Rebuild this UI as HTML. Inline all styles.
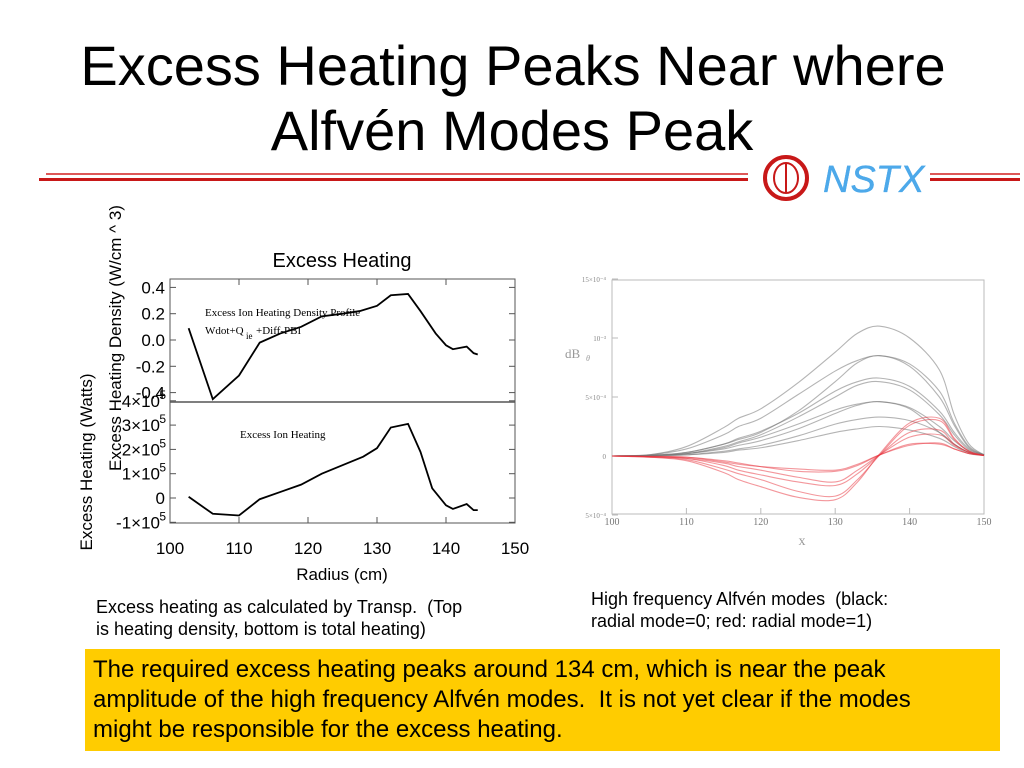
<!DOCTYPE html>
<html><head><meta charset="utf-8"><style>
body{margin:0;width:1024px;height:768px;background:#fff;position:relative;overflow:hidden;font-family:"Liberation Sans",sans-serif}
.t{position:absolute;left:0;width:1024px;text-align:center;font-size:56px;color:#000;line-height:1}
.cap{position:absolute;font-size:18px;line-height:22px;color:#000}
</style></head><body>
<div class="t" style="top:38px;left:1px">Excess Heating Peaks Near where</div>
<div class="t" style="top:103px;left:0px">Alfvén Modes Peak</div>
<svg width="1024" height="768" style="position:absolute;left:0;top:0">
<line x1="46" y1="174" x2="748" y2="174" stroke="#d42020" stroke-width="1.5"/>
<line x1="39" y1="179.5" x2="748" y2="179.5" stroke="#c81818" stroke-width="3"/>
<line x1="930" y1="174" x2="1020" y2="174" stroke="#d42020" stroke-width="1.5"/>
<line x1="930" y1="179.5" x2="1020" y2="179.5" stroke="#c81818" stroke-width="3"/>
<g>
<circle cx="786" cy="178" r="21" fill="none" stroke="#c81818" stroke-width="4"/>
<ellipse cx="786" cy="178" rx="12" ry="15" fill="none" stroke="#c81818" stroke-width="2"/>
<line x1="786" y1="163" x2="786" y2="193" stroke="#c81818" stroke-width="2"/>
<text x="823" y="192" font-family="Liberation Sans" font-style="italic" font-size="38" fill="#3aa0e8" stroke="#3aa0e8" stroke-width="0.3" fill-opacity="0.9">NSTX</text>
</g>
</svg>

<svg id="left" width="1024" height="768" style="position:absolute;left:0;top:0"></svg>
<svg id="right" width="1024" height="768" style="position:absolute;left:0;top:0"></svg>

<div class="cap" style="left:96px;top:596px;width:420px">Excess heating as calculated by Transp.&nbsp; (Top<br>is heating density, bottom is total heating)</div>
<div class="cap" style="left:591px;top:588px;width:345px">High frequency Alfvén modes&nbsp; (black: radial mode=0; red: radial mode=1)</div>
<div style="position:absolute;left:85px;top:649px;width:899px;height:96px;background:#ffcc00;padding:6px 8px 0 8px;font-size:24px;line-height:30px"><div style="width:880px">The required excess heating peaks around 134 cm, which is near the peak amplitude of the high frequency Alfvén modes.&nbsp; It is not yet clear if the modes might be responsible for the excess heating.</div></div>

<script>
// ---- left chart data ----
const densR = [102.7,106.2,110,113,116,119,122,125,127.5,130,132,134.5,136.3,138.5,140,141,143,144,144.6];
const densV = [0.09,-0.45,-0.27,-0.02,0.05,0.1,0.18,0.2,0.22,0.26,0.34,0.35,0.22,0.05,-0.04,-0.07,-0.05,-0.10,-0.11];
const heatR = [102.7,106.2,110,113,116,119,122,125,128,130,132,134.5,136.3,138,140,141,143,144,144.6];
const heatV = [0.05,-0.65,-0.72,-0.05,0.25,0.55,1.0,1.35,1.7,2.05,2.9,3.05,1.9,0.4,-0.3,-0.45,-0.25,-0.5,-0.5]; // x1e5
const xTicks = [100,110,120,130,140,150];
const densTicks = [0.4,0.2,0.0,-0.2,-0.4];
const densTickLabels = ["0.4","0.2","0.0","-0.2","-0.4"];
const heatTicks = [4,3,2,1,0,-1];

// ---- right chart data ----
const modeX = [100,105,110,115,117,120,125,130,133,136,140,144,146,148,150];
const black1 = [0,0.1,0.8,2.4,3.2,4.0,6.2,8.8,10.4,11.0,10.0,7.3,3.5,1.0,0.1];
const black2 = [0,0.1,0.6,1.8,2.5,3.2,5.2,7.2,8.1,8.5,7.8,5.5,2.8,0.8,0.1];
const black3 = [0,0.05,0.3,1.0,1.4,2.0,3.8,6.3,7.9,8.5,7.6,5.0,2.6,0.7,0.1];
const black4 = [0,0.05,0.3,1.0,1.5,2.1,3.6,5.5,6.3,6.6,5.9,3.8,2.0,0.6,0.1];
const black5 = [0,0.05,0.2,0.8,1.2,1.8,3.3,5.0,6.0,6.3,5.6,3.5,1.8,0.5,0.1];
const black6 = [0,0.05,0.2,0.7,1.1,1.6,2.7,3.9,4.4,4.6,4.1,2.5,1.3,0.4,0.05];
const black7 = [0,0.03,0.2,0.6,0.9,1.3,2.3,3.6,4.3,4.6,4.0,2.0,1.0,0.3,0.05];
const black8 = [0,0.03,0.1,0.4,0.6,0.9,1.7,2.7,3.1,3.3,3.0,2.0,1.0,0.3,0.05];
const black9 = [0,0.02,0.1,0.3,0.5,0.7,1.3,2.0,2.3,2.5,2.2,1.5,0.8,0.2,0.05];
const red1 = [0,-0.1,-0.4,-1.4,-2.0,-2.6,-3.5,-3.7,-2.2,0.2,2.8,3.2,1.5,0.4,0.05];
const red2 = [0,-0.1,-0.3,-1.1,-1.5,-2.0,-3.0,-3.4,-2.0,0.1,2.6,3.0,1.4,0.4,0.05];
const red3 = [0,-0.05,-0.2,-0.8,-1.2,-1.6,-2.2,-2.5,-1.5,0.1,2.0,2.2,1.0,0.3,0.05];
const red4 = [0,-0.05,-0.2,-0.6,-0.9,-1.2,-1.8,-2.2,-1.2,0.1,1.6,1.8,0.9,0.3,0.05];
const red5 = [0,-0.05,-0.1,-0.4,-0.6,-0.9,-1.3,-1.3,-0.8,0.1,1.0,1.0,0.6,0.2,0.05];
const red6 = [0,-0.03,-0.1,-0.5,-0.7,-0.9,-1.1,-1.2,-0.7,0.1,0.9,1.1,0.6,0.2,0.05];
const modeXTicks = [100,110,120,130,140,150];

const NS='http://www.w3.org/2000/svg';
function mk(svg,tag,attrs,text){const e=document.createElementNS(NS,tag);for(const k in attrs)e.setAttribute(k,attrs[k]);if(text!==undefined)e.textContent=text;svg.appendChild(e);return e;}

// Left chart
(function(){
const svg=document.getElementById('left');
const X0=170,X1=515;
const xs=v=>X0+(v-100)/50*(X1-X0);
const yd=v=>340-v*131.5;
const yh=v=>498-v*24.3;
let e;
e=mk(svg,'rect',{x:X0,y:279,width:X1-X0,height:244,fill:'none',stroke:'#555','stroke-width':1});


e=mk(svg,'line',{x1:X0,y1:402,x2:X1,y2:402,stroke:'#555','stroke-width':1.5});


xTicks.forEach(t=>{
  e=mk(svg,'text',{x:xs(t),y:554,'font-size':17,'text-anchor':'middle','font-family':'Liberation Sans'},String(t));
  
  
  mk(svg,'line',{x1:xs(t),y1:523,x2:xs(t),y2:517,stroke:'#555'});
  mk(svg,'line',{x1:xs(t),y1:279,x2:xs(t),y2:285,stroke:'#555'});
});
densTicks.forEach((t,i)=>{
  e=mk(svg,'text',{x:165,y:yd(t)+6,'font-size':17,'text-anchor':'end','font-family':'Liberation Sans'},densTickLabels[i]);
  
  
  mk(svg,'line',{x1:X0,y1:yd(t),x2:X0+6,y2:yd(t),stroke:'#555'});
  mk(svg,'line',{x1:X1,y1:yd(t),x2:X1-6,y2:yd(t),stroke:'#555'});
});
heatTicks.forEach(t=>{
  const y=yh(t);
  const g=mk(svg,'text',{x:t===0?165:160,y:y+6,'font-size':17,'text-anchor':'end','font-family':'Liberation Sans'});
  
  
  if(t===0){g.textContent='0';}
  else{g.textContent=(t<0?'-':'')+Math.abs(t)+'×10';
    mk(svg,'text',{x:166,y:y-2,'font-size':12,'text-anchor':'end','font-family':'Liberation Sans'},'5');}
  mk(svg,'line',{x1:X0,y1:y,x2:X0+6,y2:y,stroke:'#555'});
  mk(svg,'line',{x1:X1,y1:y,x2:X1-6,y2:y,stroke:'#555'});
});
e=mk(svg,'polyline',{points:densR.map((r,i)=>xs(r)+','+yd(densV[i])).join(' '),fill:'none',stroke:'#000','stroke-width':1.8});


e=mk(svg,'polyline',{points:heatR.map((r,i)=>xs(r)+','+yh(heatV[i])).join(' '),fill:'none',stroke:'#000','stroke-width':1.8});


e=mk(svg,'text',{x:342,y:267,'font-size':20,'text-anchor':'middle','font-family':'Liberation Sans'},'Excess Heating');


e=mk(svg,'text',{x:342,y:580,'font-size':17,'text-anchor':'middle','font-family':'Liberation Sans'},'Radius (cm)');


e=mk(svg,'text',{x:0,y:0,'font-size':17,'text-anchor':'middle','font-family':'Liberation Sans',transform:'translate(121,338) rotate(-90)'},'Excess Heating Density (W/cm ^ 3)');


e=mk(svg,'text',{x:0,y:0,'font-size':17,'text-anchor':'middle','font-family':'Liberation Sans',transform:'translate(92,462) rotate(-90)'},'Excess Heating (Watts)');


e=mk(svg,'text',{x:205,y:316,'font-size':11,'font-family':'Liberation Serif'},'Excess Ion Heating Density Profile');


e=mk(svg,'text',{x:205,y:334,'font-size':11,'font-family':'Liberation Serif'},'Wdot+Q');


mk(svg,'text',{x:246,y:339,'font-size':9,'font-family':'Liberation Serif'},'ie');
mk(svg,'text',{x:256,y:334,'font-size':11,'font-family':'Liberation Serif'},'+Diff-PBI');
e=mk(svg,'text',{x:240,y:438,'font-size':11,'font-family':'Liberation Serif'},'Excess Ion Heating');


})();

// Right chart
(function(){
const svg=document.getElementById('right');
const X0=612,X1=984,Y0=280,Y1=514;
const xs=v=>X0+(v-100)/50*(X1-X0);
const ys=v=>456-v*11.8;
let e;
e=mk(svg,'rect',{x:X0,y:Y0,width:X1-X0,height:Y1-Y0,fill:'none',stroke:'#bbb','stroke-width':1});


modeXTicks.forEach(t=>{
  e=mk(svg,'text',{x:xs(t),y:525,'font-size':10,'text-anchor':'middle','font-family':'Liberation Serif',fill:'#777'},String(t));
  
  
  mk(svg,'line',{x1:xs(t),y1:Y1,x2:xs(t),y2:Y1-6,stroke:'#bbb'});
});
[[15,'15×10⁻⁴'],[10,'10⁻³'],[5,'5×10⁻⁴'],[0,'0'],[-5,'5×10⁻⁴']].forEach(([v,l])=>{
  e=mk(svg,'text',{x:606,y:ys(v)+3,'font-size':7,'text-anchor':'end','font-family':'Liberation Serif',fill:'#888'},l);
  
  
  mk(svg,'line',{x1:X0,y1:ys(v),x2:X0+6,y2:ys(v),stroke:'#bbb'});
});
e=mk(svg,'text',{x:565,y:358,'font-size':13,'font-family':'Liberation Serif',fill:'#999'},'dB');


mk(svg,'text',{x:586,y:361,'font-size':8,'font-family':'Liberation Serif',fill:'#999','font-style':'italic'},'θ');
e=mk(svg,'text',{x:802,y:545,'font-size':14,'text-anchor':'middle','font-family':'Liberation Serif',fill:'#999'},'x');


function path(vals){
  const p=modeX.map((x,i)=>[xs(x),ys(vals[i])]);
  let d='M'+p[0][0]+','+p[0][1];
  for(let i=0;i<p.length-1;i++){
    const a=p[Math.max(0,i-1)],b=p[i],c=p[i+1],n=p[Math.min(p.length-1,i+2)];
    d+=' C'+(b[0]+(c[0]-a[0])/6)+','+(b[1]+(c[1]-a[1])/6)+' '+(c[0]-(n[0]-b[0])/6)+','+(c[1]-(n[1]-b[1])/6)+' '+c[0]+','+c[1];
  }
  return d;
}
[black1,black2,black3,black4,black5,black6,black7,black8,black9].forEach(s=>{
  e=mk(svg,'path',{d:path(s),fill:'none',stroke:'#777','stroke-opacity':0.55,'stroke-width':1.1});
  
  
});
[red1,red2,red3,red4,red5,red6].forEach(s=>{
  e=mk(svg,'path',{d:path(s),fill:'none',stroke:'#e8303a','stroke-opacity':0.5,'stroke-width':1.1});
  
  
});
})();
</script>
</body></html>
